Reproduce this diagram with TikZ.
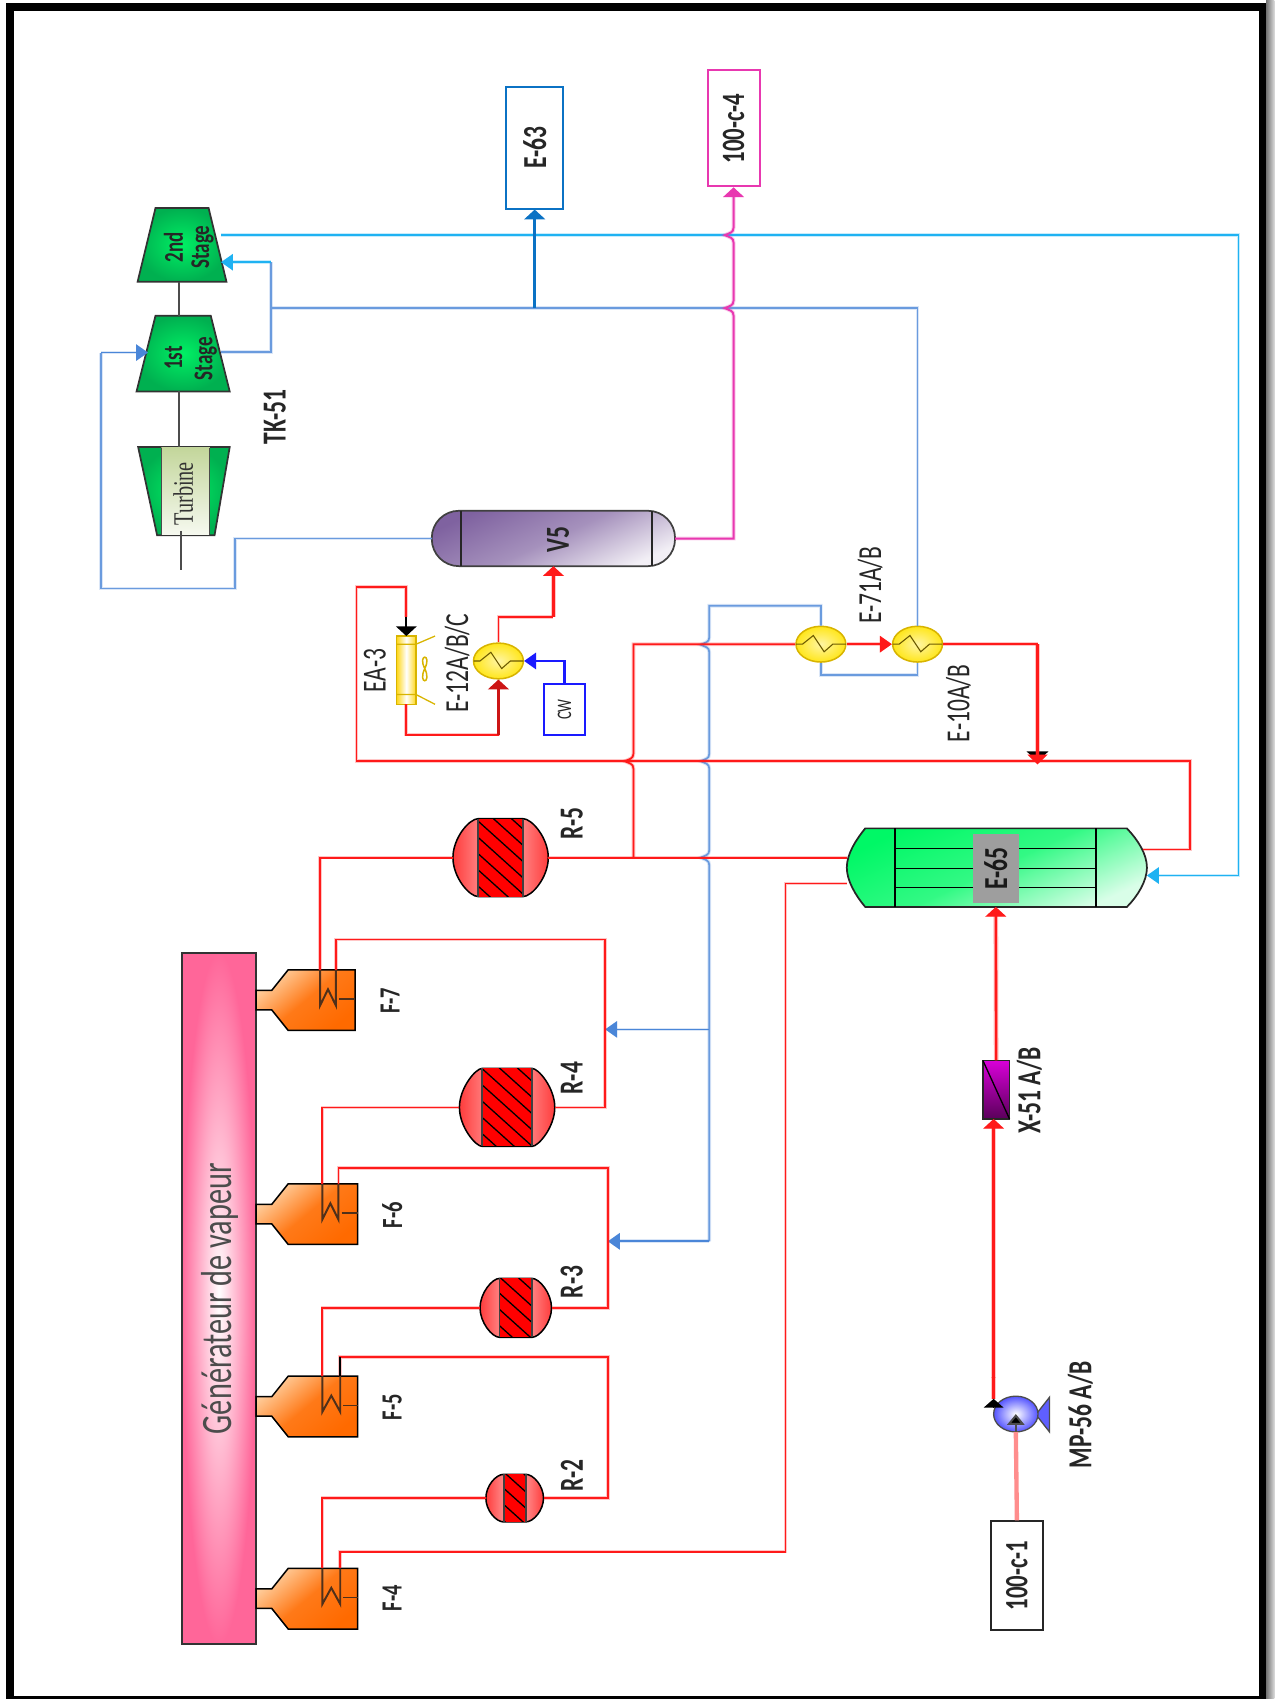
\documentclass[tikz,border=0pt]{standalone}
\usepackage{fontspec}
\usepackage{graphicx}
\setmainfont{Carlito}
\newfontfamily\serifcap{Liberation Serif}
\usetikzlibrary{arrows.meta, shapes.geometric, calc}
\definecolor{procred}{HTML}{FF1A1A}
\definecolor{steamblue}{HTML}{6A9BDE}
\definecolor{tipblue}{HTML}{4A86D8}
\definecolor{skyblue}{HTML}{1FB2F2}
\definecolor{deepblue}{HTML}{0B72C4}
\definecolor{hotpink}{HTML}{E838B0}
\definecolor{cwblue}{HTML}{1A1AFF}
\definecolor{stagegreen}{HTML}{00B050}
\definecolor{stagelight}{HTML}{00F064}
\definecolor{shellgreen}{HTML}{00F866}
\definecolor{vpurple}{HTML}{7F62A0}
\definecolor{furnorange}{HTML}{FF6A00}
\definecolor{furnlight}{HTML}{FFD0A0}
\definecolor{genpink}{HTML}{FF6699}
\definecolor{coilbrown}{HTML}{50301A}
\definecolor{hxgold}{HTML}{D8B400}
\definecolor{hxyellow}{HTML}{FFE61A}
\definecolor{paleolive}{HTML}{C3D69B}
\tikzset{
  redline/.style={procred, line width=0.8pt, preaction={draw=procred, opacity=.25, line width=1.7pt}},
  redthick/.style={procred, line width=1.2pt, preaction={draw=procred, opacity=.25, line width=2.2pt}},
  blueline/.style={steamblue, line width=0.8pt, preaction={draw=steamblue, opacity=.25, line width=1.7pt}},
  skyline/.style={skyblue, line width=0.8pt, preaction={draw=skyblue, opacity=.25, line width=1.7pt}},
  pinkline/.style={hotpink, line width=0.9pt, preaction={draw=hotpink, opacity=.25, line width=1.8pt}},
  shaftline/.style={black!70, line width=0.9pt},
  tip/.style={-{Triangle[width=7.5pt,length=5.5pt]}},
  vtip/.style={-{Triangle[width=9.5pt,length=4.5pt]}},
  boxnode/.style={draw, fill=white, inner sep=0pt, line width=0.9pt},
  anchornode/.style={inner sep=0pt, outer sep=0pt}
}
% rotated equipment tag: name, x, y, size, text
\newcommand{\wlab}[5]{%
  \node[rotate=90, anchornode, text=black!85] (#1) at (#2,#3)
    {\fontsize{#4}{#4}\selectfont\scalebox{0.7}[1]{#5}};}
\newcommand{\wbold}[5]{\wlab{#1}{#2}{#3}{#4}{\bfseries #5}}
% reactor: name, cx, cy, half width, half height, half width of bed
\newcommand{\wreac}[6]{%
  \draw[line width=0.7pt, left color=procred!85!white, right color=procred!85!white, middle color=procred!30!white]
    (#2-#6,#3-#5) -- (#2+#6,#3-#5) .. controls (#2+#4*.66,#3-#5) and (#2+#4,#3-#5*.5) .. (#2+#4,#3)
    .. controls (#2+#4,#3+#5*.5) and (#2+#4*.66,#3+#5) .. (#2+#6,#3+#5) -- (#2-#6,#3+#5)
    .. controls (#2-#4*.66,#3+#5) and (#2-#4,#3+#5*.5) .. (#2-#4,#3)
    .. controls (#2-#4,#3-#5*.5) and (#2-#4*.66,#3-#5) .. (#2-#6,#3-#5) -- cycle;
  \begin{scope}
    \clip (#2-#6,#3-#5) rectangle (#2+#6,#3+#5);
    \fill[red] (#2-#6,#3-#5) rectangle (#2+#6,#3+#5);
    \foreach \k in {-5,...,5}{\draw[line width=0.6pt] (#2-#6,#3-#6*.9+\k*15) -- ++(2*#6,1.8*#6);}
  \end{scope}
  \draw[black!75, line width=0.9pt] (#2-#6,#3-#5) -- (#2-#6,#3+#5) (#2+#6,#3-#5) -- (#2+#6,#3+#5);
  \node[anchornode, minimum width=#4pt, minimum height=#5pt] (#1) at (#2,#3) {};}
% furnace: name, cy, right side, left leg, right leg
\newcommand{\wfurn}[5]{%
  \draw[line width=0.7pt, top color=furnlight, bottom color=furnorange, middle color=furnorange!85!furnlight, shading angle=40]
    (236.3,#2-9) -- (250.8,#2-9) -- (266,#2-28) -- (#3,#2-28) -- (#3,#2+28)
    -- (266,#2+28) -- (250.8,#2+9) -- (236.3,#2+9) -- cycle;
  \draw[coilbrown, line width=0.9pt] (#4,#2-28) -- (#4,#2+5) -- ({(#4+#5)/2},#2-10) -- (#5,#2+5) -- (#5,#2-28);
  \draw[coilbrown, line width=0.6pt] (#5+3,#2-1) -- (#3,#2-1);
  \coordinate (#1l) at (#4,#2-28);
  \coordinate (#1r) at (#5,#2-28);}
% exchanger: name, cx, cy
\newcommand{\wexch}[3]{%
  \node[ellipse, draw=hxgold, line width=0.7pt, inner sep=0pt, minimum width=23pt, minimum height=16.5pt,
    inner color=hxyellow!40!white, outer color=hxyellow] (#1) at (#2,#3) {};
  \draw[hxgold!50!black, line width=0.5pt] (#2-23,#3) -- (#2-17,#3) -- (#2-7,#3-8) -- (#2+3,#3+7) -- (#2+11,#3) -- (#2+23,#3);}
% compressor casing: name, top y, bottom y, half width top, half width bottom, right bulge
\newcommand{\wstage}[6]{%
  \draw[line width=0.8pt, black!80, inner color=stagelight, outer color=stagegreen]
    (168-#4,#2) -- (168+#4+#6,#2) -- (168+#5+#6,#3) -- (168-#5,#3) -- cycle;
  \node[anchornode, minimum height={(#3-#2)/2*1pt}] (#1) at (165,{(#2+#3)/2}) {};}
% pipe bumps, going down and going up
\newcommand{\wjv}[2]{-- (#1,#2-7) .. controls (#1,#2-2) and (#1-4,#2-2) .. (#1-8,#2) .. controls (#1-4,#2+2) and (#1,#2+2) .. (#1,#2+7)}
\newcommand{\wju}[2]{-- (#1,#2+7) .. controls (#1,#2+2) and (#1-4,#2+2) .. (#1-8,#2) .. controls (#1-4,#2-2) and (#1,#2-2) .. (#1,#2-7)}

\begin{document}
\begin{tikzpicture}[x=0.5pt, y=-0.5pt]
\useasboundingbox (0,0) rectangle (1176,1568);
% frame and shadow
\shade[left color=black!55, right color=black!15] (1168.5,0) rectangle (1176,1568);
\draw[black, line width=3.5pt] (9,6.5) rectangle (1165.3,1568.8);

% steam generator
\draw[line width=0.8pt, black!80, inner color=white, outer color=genpink, shading=radial]
  (167.7,879.4) rectangle (236.3,1517);
\node[rotate=90, anchornode, text=black!70] (gen) at (203,1198.5)
  {\fontsize{20}{20}\selectfont\scalebox{0.7}[1]{Générateur de vapeur}};

% furnaces
\wfurn{F7}{923}{327.7}{295.4}{310}
\wfurn{F6}{1120.5}{330}{297.5}{312.3}
\wfurn{F5}{1298}{330}{297.5}{314}
\wfurn{F4}{1475.4}{330}{297.5}{314}
\wbold{lF7}{360}{923.7}{13.5}{F-7}
\wbold{lF6}{362}{1121.5}{13.5}{F-6}
\wbold{lF5}{362}{1298.5}{13.5}{F-5}
\wbold{lF4}{362}{1475}{13.5}{F-4}

% reactors
\wreac{R5}{462}{791.5}{44}{36}{20.5}
\wreac{R4}{468}{1022}{44}{36}{23}
\wreac{R3}{476}{1207}{33}{27.2}{15}
\wreac{R2}{475}{1382.6}{26.6}{22}{10}
\wbold{lR5}{527.7}{760}{15.5}{R-5}
\wbold{lR4}{527.7}{995}{15.5}{R-4}
\wbold{lR3}{527.7}{1183}{15.5}{R-3}
\wbold{lR2}{527.7}{1362}{15.5}{R-2}

% turbine train
\wstage{st2}{192}{260}{24.5}{41}{0}
\wstage{st1}{291.4}{361.3}{24.5}{42}{2}
\draw[line width=0.8pt, black!80, inner color=stagelight, outer color=stagegreen]
  (127.5,412.6) -- (212,412.6) -- (198,494) -- (145,494) -- cycle;
\shade[top color=paleolive, bottom color=paleolive!15!white] (149,413) rectangle (193.6,493.6);
\draw[black!70, line width=0.6pt] (149,413) -- (149,493.6) (193.6,413) -- (193.6,493.6);
\node[anchornode, minimum height=40.7pt] (turb) at (165,453.3) {};
\coordinate (turbend) at (167,525.8);
\draw[shaftline] (st2.south) -- (st1.north);
\draw[shaftline] (st1.south) -- (turb.north);
\draw[shaftline] (167,490) -- (turbend);
\wbold{l2nd}{160}{228}{12.5}{2nd}
\wbold{lst2}{187}{228}{12.5}{Stage}
\wbold{l1st}{160}{330.4}{12.5}{1st}
\wbold{lst1}{190}{331}{12.5}{Stage}
\node[rotate=90, anchornode, text=black!80] (lturb) at (169,455.7)
  {\serifcap\fontsize{13}{13}\selectfont\scalebox{0.72}[1]{Turbine}};
\wbold{lTK}{253.6}{384.7}{15.5}{TK-51}

% drum
\draw[line width=0.8pt, black!75, rounded corners=12.5pt, top color=vpurple, bottom color=vpurple!10!white,
  middle color=vpurple!70!white, shading angle=25] (398.5,471.4) rectangle (623,522.5);
\draw[black!85, line width=0.8pt] (425.6,471.4) -- (425.6,522.5) (601.6,471.4) -- (601.6,522.5);
\node[anchornode, minimum width=112.25pt, minimum height=25.55pt] (V5) at (510.75,497) {};
\wbold{lV5}{515}{497.6}{15.5}{V5}

% air cooler
\node[draw=hxgold, line width=0.7pt, anchornode, minimum width=9pt, minimum height=31.5pt,
  left color=hxyellow!85!orange, right color=hxyellow!85!orange, middle color=white] (EA3) at (375,618.5) {};
\draw[hxgold, line width=0.6pt] (366,594.5) -- (384,594.5) (366,641) -- (384,641)
  (384,594.5) -- (401.5,587) (384,641) -- (401.5,650);
\draw[hxgold, line width=0.7pt] (392,617) .. controls (385,603) and (399,603) .. (392,617)
  .. controls (385,632) and (399,632) .. (392,617);
\wlab{lEA}{346}{619}{15.5}{EA-3}

% exchangers
\wexch{E12}{460}{610}
\wexch{E71}{757.6}{594.5}
\wexch{E10}{846.8}{594.5}
\wlab{lE12}{422}{612}{15.5}{E-12A/B/C}
\wlab{lE71}{803}{540}{15.5}{E-71A/B}
\wlab{lE10}{884.6}{649}{15.5}{E-10A/B}

% main reactor exchanger
\draw[line width=0.8pt, black!85, top color=shellgreen, bottom color=shellgreen!15!white,
  middle color=shellgreen!80!white, shading angle=25]
  (798.5,764.5) -- (1040,764.5) .. controls (1050,775) and (1058.5,788) .. (1058.5,800.75)
  .. controls (1058.5,813) and (1050,827) .. (1040,837) -- (798.5,837)
  .. controls (790,827) and (781.5,813) .. (781.5,800.75)
  .. controls (781.5,788) and (790,775) .. (798.5,764.5) -- cycle;
\foreach \ty in {783,801.5,819}{\draw[black, line width=0.8pt] (826,\ty) -- (1011.7,\ty);}
\draw[black, line width=0.9pt] (826,764.5) -- (826,837) (1011.7,764.5) -- (1011.7,837);
\node[fill=black!38, anchornode, minimum width=21pt, minimum height=31.5pt] (E65) at (919,801.5) {};
\node[rotate=90, anchornode, text=black!90] (lE65) at (919,801.5)
  {\fontsize{15.5}{15.5}\selectfont\bfseries\scalebox{0.7}[1]{E-65}};

% boxes
\node[boxnode, draw=deepblue, minimum width=26.5pt, minimum height=56pt] (E63) at (493.5,136.5) {};
\wbold{lE63}{493.5}{136.5}{15.5}{E-63}
\node[boxnode, draw=hotpink, minimum width=24pt, minimum height=53.5pt] (C4) at (677,118.5) {};
\wbold{lC4}{677}{118.5}{15}{100-c-4}
\node[boxnode, draw=cwblue, minimum width=19pt, minimum height=23.5pt] (CW) at (521,655) {};
\wlab{lCW}{521}{655}{9.5}{CW}
\node[boxnode, draw=black!85, minimum width=24pt, minimum height=50pt] (C1) at (938.5,1454) {};
\wbold{lC1}{938.5}{1454}{15}{100-c-1}

% filter
\node[draw=black!85, line width=0.8pt, anchornode, minimum width=12.3pt, minimum height=27pt,
  top color=magenta!85!black, bottom color=magenta!35!black] (X51) at (919.35,1005.6) {};
\draw[black, line width=0.6pt] (X51.north west) -- (X51.south east);
\wbold{lX51}{950}{1006.6}{15.5}{X-51 A/B}

% pump
\fill[cwblue!70, draw=black!70, line width=0.6pt] (968.5,1289.6) -- (968.5,1321.4) -- (956,1305.5) -- cycle;
\node[ellipse, draw=black!70, line width=0.6pt, anchornode, minimum width=20.5pt, minimum height=16.5pt,
  inner color=white, outer color=cwblue!75] (MP) at (937.5,1305) {};
\wbold{lMP}{997}{1305.8}{15.5}{MP-56 A/B}

% named ends and bends
\coordinate (st2o) at (204,217);
\coordinate (st2i) at (204,242);
\coordinate (st1o) at (204,325);
\coordinate (st1i) at (136.6,325.4);
\coordinate (jn) at (250,242);
\coordinate (jt) at (250,284.4);
\coordinate (j63) at (493.5,284.4);
\coordinate (l1) at (216.6,543);
\coordinate (l2) at (93,325.4);
\coordinate (c1) at (1143,808);
\coordinate (e65c) at (1058.5,808);
\coordinate (e65a) at (1055,784);
\coordinate (e65l) at (781.8,791.5);
\coordinate (e65b) at (781.8,815.4);
\coordinate (r1) at (1098,702.5);
\coordinate (r2) at (329,542);
\coordinate (r4) at (375,569);
\coordinate (j5) at (584.6,791.5);
\coordinate (jm) at (677,497);
\coordinate (v1) at (510.75,569.7);
\coordinate (bt) at (654.6,559);
\coordinate (bm) at (654.6,950);
\coordinate (bl) at (654.6,1145.6);
\coordinate (e71b) at (757.6,623);
\coordinate (jq) at (957.5,594.5);
\coordinate (jr) at (957.5,702.5);
\coordinate (c7) at (558.5,867);
\coordinate (c6) at (561,1078);
\coordinate (c5) at (561,1252.3);
\coordinate (c4) at (725,1432);
\coordinate (x51b) at (917,1032.7);
\coordinate (mp1) at (917,1291);
\coordinate (mp2) at (917,1299);

% steam network
\draw[blueline] (V5.west) -| (l1) -| (l2);
\draw[blueline, tip, tipblue] (l2) -- (st1i);
\draw[blueline, line width=1.2pt] (st1o) -| (jn);
\draw[skyline, tip] (jn) -- (st2i);
\draw[skyline, tip] (st2o) -| (c1) -- (e65c);
\draw[blueline] (E10.north) |- (jt);
\draw[deepblue, line width=1.2pt, vtip] (j63) -- (E63.south);
\draw[blueline] (E71.north) |- (bt) \wjv{654.6}{595} \wjv{654.6}{702.5} \wjv{654.6}{791.5} -- (bl);
\draw[blueline] (E71.south) -- (e71b) -| (E10.south);
\draw[blueline, tip, tipblue] (bm) -- (c7 |- bm);
\draw[blueline, tip, tipblue] (bl) -- (c6 |- bl);
\draw[pinkline] (V5.east) -- (jm) \wju{677}{284.4} \wju{677}{217} -- (677,180);
\draw[pinkline, vtip] (677,180) -- (C4.south);

% process loop
\draw[redline] (R5.west) -| (F7l);
\draw[redline] (R4.west) -| (F6l);
\draw[redline] (R3.west) -| (F5l);
\draw[redline] (R2.west) -| (F4l);
\draw[redline] (F7r) |- (c7) |- (R4.east);
\draw[redline] (F6r) |- (c6) |- (R3.east);
\draw[redline] (F5r) |- (c5) |- (R2.east);
\draw[black, line width=0.8pt] (F5r) -- (314,1252.3);
\draw[redline] (F4r) |- (c4) |- (e65b);
\draw[redline] (R5.east) -- (e65l);
\draw[redline] (j5) \wju{584.6}{702.5} |- (E71.west);
\draw[redline, tip] (E71.east) -- (E10.west);
\draw[redline] (E10.east) -- (jq);
\draw[-{Triangle[width=10pt,length=4.5pt]}, line width=0.6pt] (957.5,695) -- (jr);
\draw[redthick, -{Triangle[width=9pt,length=4.5pt]}] (jq) -- ([yshift=-1.5pt]jr);
\draw[redline] (e65a) -| (r1) -| (r2) -| (r4);
\draw[black, line width=0.9pt, vtip] (r4) -- (EA3.north);
\draw[redline] (EA3.south) -- ++(0,28) -| (E12.south);
\draw[procred!80!black, line width=1.1pt, vtip] (460,678) -- (E12.south);
\draw[redline] (E12.north) |- (v1);
\draw[redthick, vtip] (v1) -- (V5.south);
\draw[cwblue, line width=1.1pt, tip] (CW.north) |- (E12.east);

% feed
\draw[procred!50!white, line width=2pt] (C1.north) -- (MP.south);
\draw[black!70, line width=0.9pt, -{Triangle[width=8pt,length=5pt,fill=black]}] (MP.south) -- (MP.center);
\draw[redthick, line width=1.3pt] (mp1) -- ++(0,-20);
\draw[redthick, line width=1.3pt, vtip] (917,1272) -- (x51b);
\draw[black, line width=0.6pt, -{Triangle[width=9pt,length=4pt]}] (mp2) -- (mp1);
\draw[redthick, vtip] (X51.north) -- (E65.south |- 0,837);
\end{tikzpicture}
\end{document}
